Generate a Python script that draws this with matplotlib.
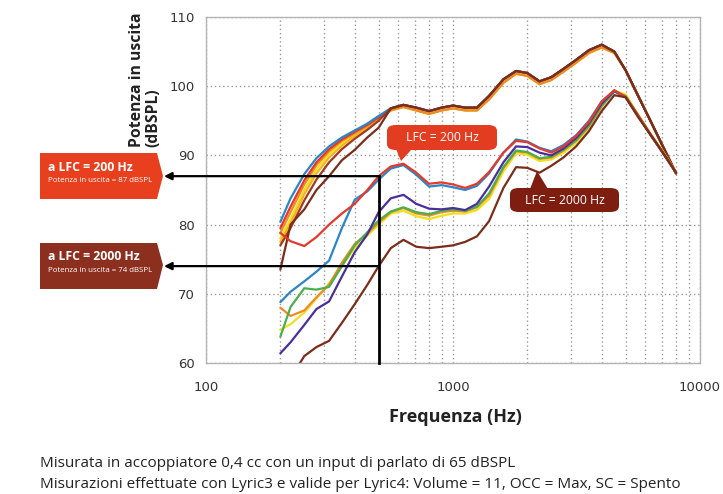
import numpy as np
import matplotlib
matplotlib.use("Agg")
import matplotlib.pyplot as plt
from matplotlib.patches import Polygon, FancyBboxPatch
from matplotlib.ticker import FuncFormatter, NullFormatter, FixedLocator

# ---------------------------------------------------------------------------
# Data (Hz / dB SPL)
# ---------------------------------------------------------------------------
FREQS = [200, 220, 250, 280, 315, 355, 400, 450, 500,
         560, 630, 710, 800, 900, 1000, 1120, 1250, 1400, 1600, 1800, 2000,
         2240, 2500, 2800, 3150, 3550, 4000, 4500, 5000, 5600, 6300, 7100, 8000]

# upper bundle: low-frequency part (200..500 Hz) per curve
U_BLUE_LOW = [80.4, 83.8, 87.3, 89.6, 91.3, 92.6, 93.6, 94.6, 95.7]
U_RED_LOW = [79.5, 82.6, 86.4, 89.0, 90.9, 92.3, 93.4, 94.4, 95.5]
U_ORANGE_LOW = [78.8, 81.8, 85.8, 88.6, 90.6, 92.1, 93.2, 94.3, 95.4]
U_YELLOW_LOW = [78.0, 80.8, 85.0, 88.0, 90.2, 91.8, 93.0, 94.2, 95.3]
U_GOLD_LOW = [77.5, 80.2, 84.4, 87.4, 89.7, 91.4, 92.8, 94.0, 95.2]
U_DARKRED_LOW = [77.0, 79.5, 83.5, 86.5, 89.0, 90.9, 92.4, 93.7, 95.0]
U_BROWN_LOW = [73.5, 80.0, 82.2, 85.0, 87.0, 89.3, 90.8, 92.6, 94.0]

# upper bundle: shared part from 560 Hz on
U_TAIL = [96.8, 97.3, 96.9, 96.4, 96.9, 97.2, 96.9, 96.9, 98.6, 101.0, 102.2,
          101.9, 100.7, 101.3, 102.5, 103.8, 105.2, 106.0, 105.0, 102.3, 98.7,
          95.0, 91.2, 87.4]
U_TAIL_LIGHT = [96.5, 97.0, 96.5, 96.0, 96.5, 96.8, 96.5, 96.5, 98.1, 100.5,
                101.8, 101.5, 100.3, 100.9, 102.1, 103.4, 104.8, 105.6, 104.8,
                102.3, 98.7, 95.0, 91.2, 87.4]

# lower bundle, one list per curve
L_RED = [78.8, 77.6, 76.9, 78.2, 80.0, 81.6, 83.0, 85.0, 87.0,
         88.4, 88.8, 87.5, 85.9, 86.1, 85.8, 85.3, 85.9, 87.6, 90.4, 92.1, 91.9,
         91.0, 90.4, 91.3, 92.8, 94.8, 97.8, 99.4, 98.4, 95.8, 93.0, 90.3, 87.5]
L_BLUE = [68.8, 70.3, 71.8, 73.2, 74.8, 79.5, 83.6, 84.8, 86.5,
          88.1, 88.6, 87.2, 85.5, 85.7, 85.4, 85.0, 85.6, 87.4, 90.4, 92.3, 92.0,
          91.1, 90.6, 91.5, 92.9, 95.0, 97.8, 99.4, 98.4, 95.8, 93.0, 90.3, 87.5]
L_PURPLE = [61.4, 63.0, 65.5, 67.8, 68.9, 72.5, 76.0, 78.6, 81.8,
            83.8, 84.3, 83.0, 82.3, 82.2, 82.4, 82.1, 83.0, 85.5, 89.0, 91.3, 91.2,
            90.4, 90.0, 91.0, 92.5, 94.6, 97.5, 99.3, 98.4, 95.8, 93.0, 90.3, 87.5]
L_GREEN = [63.8, 68.1, 70.8, 70.6, 71.0, 74.0, 77.0, 78.9, 80.6,
           81.9, 82.5, 81.8, 81.5, 82.0, 82.2, 82.0, 82.6, 84.5, 88.3, 90.7, 90.5,
           89.6, 89.8, 90.8, 92.2, 94.3, 97.2, 99.2, 98.5, 95.8, 93.0, 90.3, 87.5]
L_ORANGE = [68.0, 66.8, 67.6, 69.5, 71.3, 74.5, 77.2, 78.7, 80.3,
            81.8, 82.4, 81.6, 81.3, 81.8, 82.0, 81.9, 82.5, 84.2, 88.2, 90.6, 90.4,
            89.5, 89.7, 90.7, 92.1, 94.2, 97.1, 99.3, 98.6, 95.9, 93.1, 90.4, 87.5]
L_YELLOW = [64.8, 65.6, 67.3, 69.3, 71.5, 74.0, 76.6, 78.4, 80.0,
            81.6, 82.0, 81.2, 80.8, 81.3, 81.6, 81.6, 82.1, 83.7, 87.7, 90.3, 90.1,
            89.2, 89.4, 90.4, 91.8, 94.0, 97.0, 99.4, 98.8, 96.0, 93.2, 90.5, 87.6]
L_BROWN = [55.0, 57.8, 61.0, 62.3, 63.2, 65.8, 68.5, 71.3, 74.0,
           76.6, 77.8, 76.8, 76.6, 76.8, 77.0, 77.5, 78.3, 80.5, 85.3, 88.3, 88.2,
           87.5, 88.5, 89.7, 91.3, 93.5, 96.4, 98.7, 98.4, 95.6, 93.0, 90.3, 87.5]

MARK_FREQ = 500          # Hz, vertical reading line
LFC200_LEVEL = 87        # dB SPL at 500 Hz, LFC = 200 Hz
LFC2000_LEVEL = 74       # dB SPL at 500 Hz, LFC = 2000 Hz

Y_TICKS = [60, 70, 80, 90, 100, 110]
X_TICKS = [100, 1000, 10000]

BLUE = "#2a86c8"
RED = "#e5392b"
ORANGE = "#f08a24"
YELLOW = "#f2e01b"
GOLD = "#f2b51e"
GREEN = "#4bae4f"
PURPLE = "#4a2f9c"
BROWN = "#7b2d1a"
DARKRED = "#a23a22"

BOX_RED = "#e8401f"
BOX_BROWN = "#8c2f1e"

W, H = 723, 494
FONT = "Open Sans"


def px(x, y):
    """Figure pixel (from top-left) -> figure fraction."""
    return x / W, 1 - y / H


fig = plt.figure(figsize=(W / 100, H / 100), dpi=100)
fig.patch.set_facecolor("white")
ax = fig.add_axes([206 / W, 1 - 363 / H, 494 / W, 346 / H])

ax.set_xscale("log")
ax.set_xlim(100, 10000)
ax.set_ylim(60, 110)

grid_kw = dict(color="#9a9a9a", lw=1.0, linestyle=(0, (1, 2)))
ax.grid(True, which="both", axis="x", **grid_kw)
ax.grid(True, which="major", axis="y", **grid_kw)
ax.set_axisbelow(True)

# upper bundle (light colours underneath, brown on top)
upper = [
    (U_YELLOW_LOW + U_TAIL_LIGHT, YELLOW),
    (U_GOLD_LOW + U_TAIL_LIGHT, GOLD),
    (U_ORANGE_LOW + U_TAIL_LIGHT, ORANGE),
    (U_RED_LOW + U_TAIL, RED),
    (U_BLUE_LOW + U_TAIL, BLUE),
    (U_DARKRED_LOW + U_TAIL, DARKRED),
    (U_BROWN_LOW + U_TAIL, BROWN),
]
for vals, col in upper:
    ax.plot(FREQS, vals, color=col, lw=1.6, solid_capstyle="round")

lower = [
    (L_YELLOW, YELLOW),
    (L_ORANGE, ORANGE),
    (L_GREEN, GREEN),
    (L_PURPLE, PURPLE),
    (L_BLUE, BLUE),
    (L_RED, RED),
    (L_BROWN, BROWN),
]
for vals, col in lower:
    ax.plot(FREQS, vals, color=col, lw=1.6, solid_capstyle="round")

# reading lines at 500 Hz
ax.plot([MARK_FREQ, MARK_FREQ], [60, LFC200_LEVEL], color="black", lw=2.0,
        clip_on=False, zorder=5)
for level in (LFC200_LEVEL, LFC2000_LEVEL):
    ax.annotate("", xy=(-0.085, level), xycoords=ax.get_yaxis_transform(),
                xytext=(MARK_FREQ, level), textcoords="data",
                arrowprops=dict(arrowstyle="-|>", color="black", lw=1.6,
                                mutation_scale=11, shrinkA=0, shrinkB=0),
                annotation_clip=False, zorder=5)

# axes styling
for sp in ax.spines.values():
    sp.set_color("#b4b4b4")
    sp.set_linewidth(1.0)
ax.tick_params(which="both", length=0)
ax.tick_params(axis="y", pad=8, labelsize=9.5, labelcolor="#333333")
ax.tick_params(axis="x", pad=13, labelsize=9.5, labelcolor="#333333")
ax.set_yticks(Y_TICKS)
ax.xaxis.set_major_locator(FixedLocator(X_TICKS))
ax.xaxis.set_major_formatter(FuncFormatter(lambda v, _: f"{v:.0f}"))
ax.xaxis.set_minor_formatter(NullFormatter())

fig.text(*px(145, 80), "Potenza in uscita\n(dBSPL)", rotation=90,
         ha="center", va="center", multialignment="left",
         fontsize=11.3, fontweight="bold", family=FONT, color="#222222",
         linespacing=1.05)
fig.text(*px(455, 417), "Frequenza (Hz)", ha="center", va="center",
         fontsize=13, fontweight="bold", family=FONT, color="#222222")
fig.text(*px(40, 463), "Misurata in accoppiatore 0,4 cc con un input di parlato di 65 dBSPL",
         ha="left", va="center", fontsize=11, family=FONT, color="#222222")
fig.text(*px(40, 484), "Misurazioni effettuate con Lyric3 e valide per Lyric4: "
         "Volume = 11, OCC = Max, SC = Spento",
         ha="left", va="center", fontsize=11, family=FONT, color="#222222")


# left pentagon labels
def tag(top, bottom, tip_y, color, line1, line2):
    pts = [px(40, top), px(157, top), px(163, tip_y), px(157, bottom), px(40, bottom)]
    fig.patches.append(Polygon(pts, closed=True, transform=fig.transFigure,
                               facecolor=color, edgecolor="none", zorder=3))
    fig.text(*px(48, top + 14), line1, ha="left", va="center", fontsize=8.8,
             fontweight="bold", family=FONT, color="white", zorder=4)
    fig.text(*px(48, top + 28), line2, ha="left", va="center", fontsize=5.7,
             family=FONT, color="white", zorder=4)


tag(153, 199, 176, BOX_RED, "a LFC = 200 Hz", "Potenza in uscita = 87 dBSPL")
tag(243, 289, 265, BOX_BROWN, "a LFC = 2000 Hz", "Potenza in uscita = 74 dBSPL")


# callouts inside the plot
def callout(x0, y0, x1, y1, ptr, color, text):
    box = FancyBboxPatch(px(x0, y1), (x1 - x0) / W, (y1 - y0) / H,
                         boxstyle="round,pad=0,rounding_size=0.012",
                         transform=fig.transFigure, facecolor=color,
                         edgecolor="none", zorder=6)
    fig.patches.append(box)
    fig.patches.append(Polygon([px(*p) for p in ptr], closed=True,
                               transform=fig.transFigure, facecolor=color,
                               edgecolor="none", zorder=6))
    fig.text(*px((x0 + x1) / 2, (y0 + y1) / 2), text, ha="center", va="center",
             fontsize=8.8, family=FONT, color="white", zorder=7)


callout(387, 125, 497, 150, [(396, 149), (412, 149), (401, 161)], "#e23d20",
        "LFC = 200 Hz")
callout(510, 188, 619, 212, [(530, 189), (548, 189), (537, 171)], "#7d1e10",
        "LFC = 2000 Hz")

fig.savefig("out.png", dpi=100)
